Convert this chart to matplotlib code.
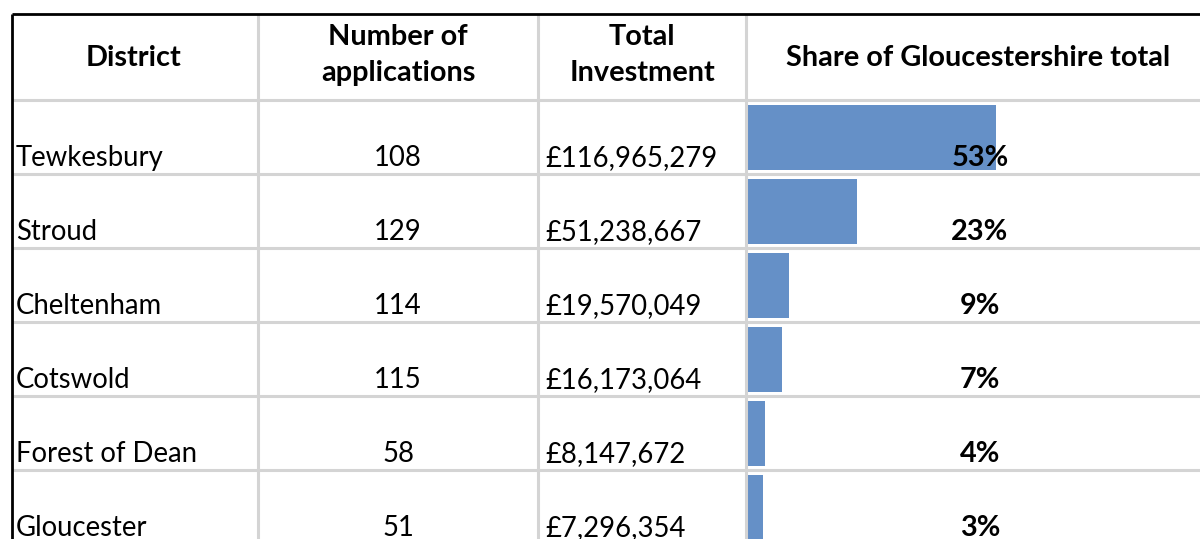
import numpy as np
import matplotlib
matplotlib.use('Agg')
import matplotlib.pyplot as plt

districts = ['Tewkesbury', 'Stroud', 'Cheltenham', 'Cotswold', 'Forest of Dean', 'Gloucester']
applications = [108, 129, 114, 115, 58, 51]
investment = ['£116,965,279', '£51,238,667', '£19,570,049', '£16,173,064', '£8,147,672', '£7,296,354']
share_pct = [53.3, 23.4, 8.9, 7.4, 3.7, 3.3]
share_labels = ['53%', '23%', '9%', '7%', '4%', '3%']
headers = ['District', 'Number of\napplications', 'Total\nInvestment', 'Share of Gloucestershire total']

W, H = 1200, 539
plt.rcParams['font.family'] = ['Lato', 'DejaVu Sans']

fig = plt.figure(figsize=(W / 100, H / 100), dpi=100)

# table geometry in pixels
top = 14
header_bottom = 100
row_h = 74
col_edges = [12, 258, 538, 746]
grid = '#d4d4d4'
fs = 19.8
fs_bold = 20.8

# bars live in their own axes so the widths come from the data scale
bar_left = 748
bar_px_per_pct = 248 / 53.3
n = len(districts)
bax = fig.add_axes([bar_left / W, (H - (header_bottom + n * row_h)) / H,
                    (W - bar_left) / W, n * row_h / H])
bax.barh(np.arange(n), share_pct, height=65 / row_h, color='#6590c7')
bax.set_xlim(0, (W - bar_left) / bar_px_per_pct)
bax.set_ylim(n - 0.5, -0.5)
bax.axis('off')
bax.set_zorder(0)

# overlay axes in pixel coordinates for lines and text
ax = fig.add_axes([0, 0, 1, 1])
ax.set_xlim(0, W)
ax.set_ylim(H, 0)
ax.axis('off')
ax.set_zorder(1)
ax.patch.set_alpha(0)

for i in range(n + 1):
    y = header_bottom + i * row_h
    ax.plot([col_edges[0], W], [y, y], color=grid, lw=2.2, solid_capstyle='butt', zorder=1)
for x in col_edges[1:]:
    ax.plot([x, x], [top, H], color=grid, lw=2.2, solid_capstyle='butt', zorder=1)
ax.plot([col_edges[0], W], [top, top], color='black', lw=2.0, solid_capstyle='butt', zorder=3)
ax.plot([col_edges[0], col_edges[0]], [top, H], color='black', lw=2.0, solid_capstyle='butt', zorder=3)

# header
ax.text(134, 66, headers[0], ha='center', va='baseline', fontsize=fs_bold, fontweight='bold')
for cx, label in [(398, headers[1]), (642, headers[2])]:
    l1, l2 = label.split('\n')
    ax.text(cx, 45, l1, ha='center', va='baseline', fontsize=fs_bold, fontweight='bold')
    ax.text(cx, 81, l2, ha='center', va='baseline', fontsize=fs_bold, fontweight='bold')
ax.text(978, 66, headers[3], ha='center', va='baseline', fontsize=fs_bold, fontweight='bold')

# body
for i in range(n):
    base = header_bottom + (i + 1) * row_h - 8
    ax.text(16, base, districts[i], ha='left', va='baseline', fontsize=fs)
    ax.text(398, base, str(applications[i]), ha='center', va='baseline', fontsize=fs)
    ax.text(545, base, investment[i], ha='left', va='baseline', fontsize=fs)
    ax.text(980, base, share_labels[i], ha='center', va='baseline', fontsize=fs_bold,
            fontweight='bold', zorder=5)

fig.savefig('out.png', dpi=100)
